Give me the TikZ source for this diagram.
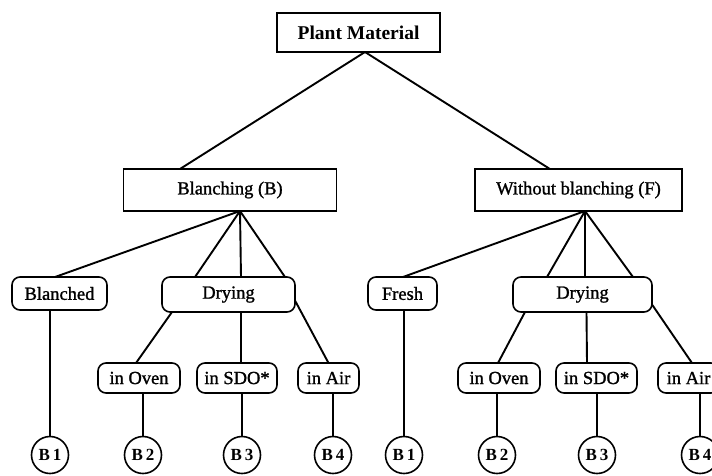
\documentclass[tikz,border=0pt]{standalone}
\usepackage{fontspec}
\setmainfont{Liberation Serif}
\newfontfamily\heavyserif[FakeBold=1.2]{Liberation Serif}
\usetikzlibrary{calc}
\begin{document}
\begin{tikzpicture}[x=1pt,y=-1pt,
  every node/.style={inner sep=0pt,outer sep=0pt},
  rootbox/.style={draw,line width=1.8pt,minimum width=163pt,minimum height=39pt,font=\fontsize{19.5}{22}\selectfont\bfseries},
  sqbox/.style={draw,line width=1.8pt,minimum height=42pt,font=\heavyserif\fontsize{18.5}{21}\selectfont},
  rbox/.style={draw,line width=1.6pt,rounded corners=8pt,minimum height=33pt,font=\heavyserif\fontsize{18.5}{21}\selectfont},
  lbox/.style={draw,line width=1.6pt,rounded corners=8pt,minimum height=30pt,font=\heavyserif\fontsize{18.5}{21}\selectfont},
  leaf/.style={draw,circle,line width=1.6pt,minimum size=37pt,font=\fontsize{17}{19}\selectfont\bfseries},
  conn/.style={line width=1.9pt}]
\useasboundingbox (0,0) rectangle (712,475);
% nodes
\node[rootbox] (pm) at (358.5,32.5) {Plant Material};
\node[sqbox,minimum width=213pt] (bl) at (230,190) {Blanching (B)};
\node[sqbox,minimum width=207pt] (wb) at (578.5,190) {Without blanching (F)};
\node[rbox,minimum width=95pt] (blanched) at (59.5,293.5) {Blanched};
\node[rbox,minimum width=133pt,minimum height=35pt] (dryL) at (228.5,294.5) {Drying};
\node[rbox,minimum width=69pt] (fresh) at (402.5,293.5) {Fresh};
\node[rbox,minimum width=139pt,minimum height=35pt] (dryR) at (582.5,294.5) {Drying};
\node[lbox,minimum width=82pt] (ovenL) at (139,378) {in Oven};
\node[lbox,minimum width=80pt] (sdoL) at (237,378) {in SDO*};
\node[lbox,minimum width=61pt] (airL) at (328.5,378) {in Air};
\node[lbox,minimum width=82pt] (ovenR) at (499,378) {in Oven};
\node[lbox,minimum width=81pt] (sdoR) at (596.5,378) {in SDO*};
\node[lbox,minimum width=61pt] (airR) at (688.5,378) {in Air};
\node[leaf] (b1L) at (50,455) {B\,1};
\node[leaf] (b2L) at (143,455) {B\,2};
\node[leaf] (b3L) at (242,455) {B\,3};
\node[leaf] (b4L) at (333,455) {B\,4};
\node[leaf] (b1R) at (404,455) {B\,1};
\node[leaf] (b2R) at (497,455) {B\,2};
\node[leaf] (b3R) at (597,455) {B\,3};
\node[leaf] (b4R) at (700,455) {B\,4};
% top level
\draw[conn] ([xshift=6.5pt]pm.south) -- ($(bl.north west)!0.265!(bl.north east)$);
\draw[conn] ([xshift=6.5pt]pm.south) -- ($(wb.north west)!0.362!(wb.north east)$);
% left branch
\draw[conn] ([xshift=10pt]bl.south) -- ([xshift=-4.5pt]blanched.north);
\draw[conn] ([xshift=10pt]bl.south) -- ([xshift=-33.5pt]dryL.north);
\draw[conn] ([xshift=10pt]bl.south) -- ([xshift=12.5pt]dryL.north);
\draw[conn] ([xshift=10pt]bl.south) -- ([xshift=56.5pt]dryL.north);
% right branch
\draw[conn] ([xshift=6.5pt]wb.south) -- ([xshift=0.5pt]fresh.north);
\draw[conn] ([xshift=6.5pt]wb.south) -- ([xshift=-35.5pt]dryR.north);
\draw[conn] ([xshift=6.5pt]wb.south) -- ([xshift=2.5pt]dryR.north);
\draw[conn] ([xshift=6.5pt]wb.south) -- ([xshift=50.5pt]dryR.north);
% drying left
\draw[conn] ([xshift=-56.5pt]dryL.south) -- ([xshift=-3pt]ovenL.north);
\draw[conn] ([xshift=12.5pt]dryL.south) -- ([xshift=4pt]sdoL.north);
\draw[conn] ([yshift=-6pt]dryL.east) -- (airL.north);
% drying right
\draw[conn] ([xshift=-57.5pt]dryR.south) -- ([xshift=-1pt]ovenR.north);
\draw[conn] ([xshift=4pt]dryR.south) -- ([xshift=-9.5pt]sdoR.north);
\draw[conn] ([yshift=-10pt]dryR.east) -- ([xshift=3.5pt]airR.north);
% to leaves
\draw[conn] (blanched.south -| b1L.north) -- (b1L.north);
\draw[conn] (ovenL.south -| b2L.north) -- (b2L.north);
\draw[conn] (sdoL.south -| b3L.north) -- (b3L.north);
\draw[conn] (airL.south -| b4L.north) -- (b4L.north);
\draw[conn] (fresh.south -| b1R.north) -- (b1R.north);
\draw[conn] (ovenR.south -| b2R.north) -- (b2R.north);
\draw[conn] (sdoR.south -| b3R.north) -- (b3R.north);
\draw[conn] (airR.south -| b4R.north) -- (b4R.north);
\end{tikzpicture}
\end{document}
